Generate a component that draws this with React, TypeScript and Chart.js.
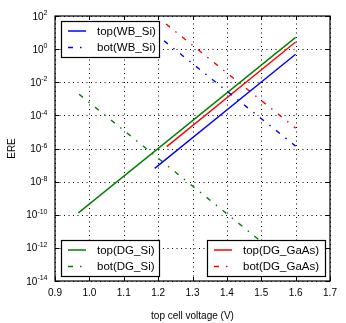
import React, { useEffect, useRef } from "react";
import { Chart, registerables } from "chart.js";

Chart.register(...registerables);

// ---- data ----
const xTickValues = [0.9, 1.0, 1.1, 1.2, 1.3, 1.4, 1.5, 1.6, 1.7];
const yTickExponents = [2, 0, -2, -4, -6, -8, -10, -12, -14];

const topWB_x = [1.19, 1.6];
const topWB_y = [6.3e-8, 0.49];
const botWB_x = [1.217, 1.6];
const botWB_y = [3.2, 1.4e-6];
const topDGSi_x = [0.968, 1.6];
const topDGSi_y = [1.3e-10, 5.1];
const botDGSi_x = [0.97, 1.6];
const botDGSi_y = [1.9e-3, 5.0e-14];
const topGaAs_x = [1.225, 1.6];
const topGaAs_y = [1.3e-6, 2.7];
const botGaAs_x = [1.223, 1.6];
const botGaAs_y = [33, 1.7e-5];

const BLUE = "#0000ff";
const GREEN = "#008000";
const RED = "#ff0000";
const DASHDOT = [5, 7, 1.5, 7];
const FONT = '"Liberation Sans", Arial, sans-serif';

const pts = (xs: number[], ys: number[]) => xs.map((x, i) => ({ x, y: ys[i] }));

type LegendItem = { label: string; color: string; dash: number[] };
const legends: { x: number; y: number; w: number; h: number; items: LegendItem[] }[] = [
  {
    x: 61, y: 21, w: 98, h: 36,
    items: [
      { label: "top(WB_Si)", color: BLUE, dash: [] },
      { label: "bot(WB_Si)", color: BLUE, dash: DASHDOT },
    ],
  },
  {
    x: 61, y: 240, w: 98, h: 36,
    items: [
      { label: "top(DG_Si)", color: GREEN, dash: [] },
      { label: "bot(DG_Si)", color: GREEN, dash: DASHDOT },
    ],
  },
  {
    x: 207, y: 240, w: 118, h: 36,
    items: [
      { label: "top(DG_GaAs)", color: RED, dash: [] },
      { label: "bot(DG_GaAs)", color: RED, dash: DASHDOT },
    ],
  },
];

const decorPlugin = {
  id: "decor",
  beforeDatasetsDraw(chart: any) {
    // dotted grid
    const { ctx, chartArea } = chart;
    const { left, right, top, bottom } = chartArea;
    const xs = chart.scales.x;
    const ys = chart.scales.y;
    ctx.save();
    ctx.strokeStyle = "#000";
    ctx.lineWidth = 1;
    ctx.setLineDash([1, 3.5]);
    xTickValues.forEach((v) => {
      const px = Math.round(xs.getPixelForValue(v)) + 0.5;
      ctx.beginPath();
      ctx.moveTo(px, bottom);
      ctx.lineTo(px, top);
      ctx.stroke();
    });
    yTickExponents.forEach((e) => {
      const py = Math.round(ys.getPixelForValue(Math.pow(10, e))) + 0.5;
      ctx.beginPath();
      ctx.moveTo(left, py);
      ctx.lineTo(right, py);
      ctx.stroke();
    });
    ctx.restore();
  },
  afterDraw(chart: any) {
    const { ctx, chartArea } = chart;
    const { left, right, top, bottom } = chartArea;
    const xs = chart.scales.x;
    const ys = chart.scales.y;
    ctx.save();

    // inward tick marks
    ctx.strokeStyle = "#000";
    ctx.lineWidth = 1;
    ctx.setLineDash([]);
    const tl = 4;
    ctx.beginPath();
    xTickValues.forEach((v) => {
      const px = Math.round(xs.getPixelForValue(v)) + 0.5;
      ctx.moveTo(px, bottom); ctx.lineTo(px, bottom - tl);
      ctx.moveTo(px, top); ctx.lineTo(px, top + tl);
    });
    yTickExponents.forEach((e) => {
      const py = Math.round(ys.getPixelForValue(Math.pow(10, e))) + 0.5;
      ctx.moveTo(left, py); ctx.lineTo(left + tl, py);
      ctx.moveTo(right, py); ctx.lineTo(right - tl, py);
    });
    ctx.stroke();

    // legends
    legends.forEach((lg) => {
      ctx.fillStyle = "#fff";
      ctx.fillRect(lg.x, lg.y, lg.w, lg.h);
      ctx.strokeStyle = "#000";
      ctx.lineWidth = 1.2;
      ctx.setLineDash([]);
      ctx.strokeRect(lg.x + 0.5, lg.y + 0.5, lg.w, lg.h);
      lg.items.forEach((it, i) => {
        const cy = lg.y + 10 + i * 16.5;
        ctx.strokeStyle = it.color;
        ctx.lineWidth = 1.5;
        ctx.setLineDash(it.dash);
        ctx.beginPath();
        ctx.moveTo(lg.x + 7, cy);
        ctx.lineTo(lg.x + 25, cy);
        ctx.stroke();
        ctx.setLineDash([]);
        ctx.fillStyle = "#000";
        ctx.font = `11.5px ${FONT}`;
        ctx.textAlign = "left";
        ctx.textBaseline = "middle";
        ctx.fillText(it.label, lg.x + 36, cy + 0.5);
      });
    });

    // frame
    ctx.strokeStyle = "#000";
    ctx.lineWidth = 1.2;
    ctx.setLineDash([]);
    ctx.strokeRect(left, top, right - left, bottom - top);

    // x tick labels
    ctx.fillStyle = "#000";
    ctx.font = `10px ${FONT}`;
    ctx.textAlign = "center";
    ctx.textBaseline = "middle";
    xTickValues.forEach((v) => {
      ctx.fillText(v.toFixed(1), xs.getPixelForValue(v), bottom + 12);
    });

    // y tick labels with superscripts
    yTickExponents.forEach((e) => {
      const py = ys.getPixelForValue(Math.pow(10, e));
      const sup = String(e);
      ctx.font = `7px ${FONT}`;
      const sw = ctx.measureText(sup).width;
      ctx.font = `10px ${FONT}`;
      const bw = ctx.measureText("10").width;
      const rightEdge = 47.5;
      ctx.textAlign = "left";
      ctx.textBaseline = "alphabetic";
      ctx.fillText("10", rightEdge - sw - bw, py + 3.5);
      ctx.font = `7px ${FONT}`;
      ctx.fillText(sup, rightEdge - sw, py - 0.8);
    });

    // axis titles
    ctx.font = `10px ${FONT}`;
    ctx.textAlign = "center";
    ctx.textBaseline = "middle";
    ctx.fillText("top cell voltage (V)", (left + right) / 2, 316);
    ctx.save();
    ctx.translate(12, (top + bottom) / 2);
    ctx.rotate(-Math.PI / 2);
    ctx.fillText("ERE", 0, 0);
    ctx.restore();

    ctx.restore();
  },
};

export default function App() {
  const ref = useRef<HTMLCanvasElement>(null);
  useEffect(() => {
    if (!ref.current) return;
    const ds = (xs: number[], ys: number[], color: string, dash: number[]) => ({
      data: pts(xs, ys),
      borderColor: color,
      backgroundColor: color,
      borderWidth: 1.4,
      borderDash: dash,
      pointRadius: 0,
      fill: false,
      tension: 0,
    });
    const chart = new Chart(ref.current, {
      type: "line",
      data: {
        datasets: [
          ds(topWB_x, topWB_y, BLUE, []),
          ds(botWB_x, botWB_y, BLUE, DASHDOT),
          ds(topDGSi_x, topDGSi_y, GREEN, []),
          ds(botDGSi_x, botDGSi_y, GREEN, DASHDOT),
          ds(topGaAs_x, topGaAs_y, RED, []),
          ds(botGaAs_x, botGaAs_y, RED, DASHDOT),
        ] as any,
      },
      options: {
        animation: false,
        responsive: false,
        maintainAspectRatio: false,
        layout: { padding: { left: 0, top: 16, right: 16, bottom: 0 } },
        plugins: { legend: { display: false }, tooltip: { enabled: false } },
        scales: {
          x: {
            type: "linear",
            min: 0.9,
            max: 1.7,
            afterBuildTicks: (s: any) => {
              s.ticks = xTickValues.map((v) => ({ value: v }));
            },
            afterFit: (s: any) => {
              s.height = 42;
            },
            ticks: { display: false },
            grid: { display: false },
            border: { display: false },
          },
          y: {
            type: "logarithmic",
            min: 1e-14,
            max: 1e2,
            afterBuildTicks: (s: any) => {
              s.ticks = yTickExponents.map((e) => ({ value: Math.pow(10, e) }));
            },
            afterFit: (s: any) => {
              s.width = 55;
            },
            ticks: { display: false },
            grid: { display: false },
            border: { display: false },
          },
        },
      } as any,
      plugins: [decorPlugin],
    });
    return () => chart.destroy();
  }, []);
  return (
    <div style={{ position: "absolute", left: 0, top: 0, width: 346, height: 323, background: "#fff" }}>
      <canvas ref={ref} width={346} height={323} style={{ width: 346, height: 323 }} />
    </div>
  );
}
